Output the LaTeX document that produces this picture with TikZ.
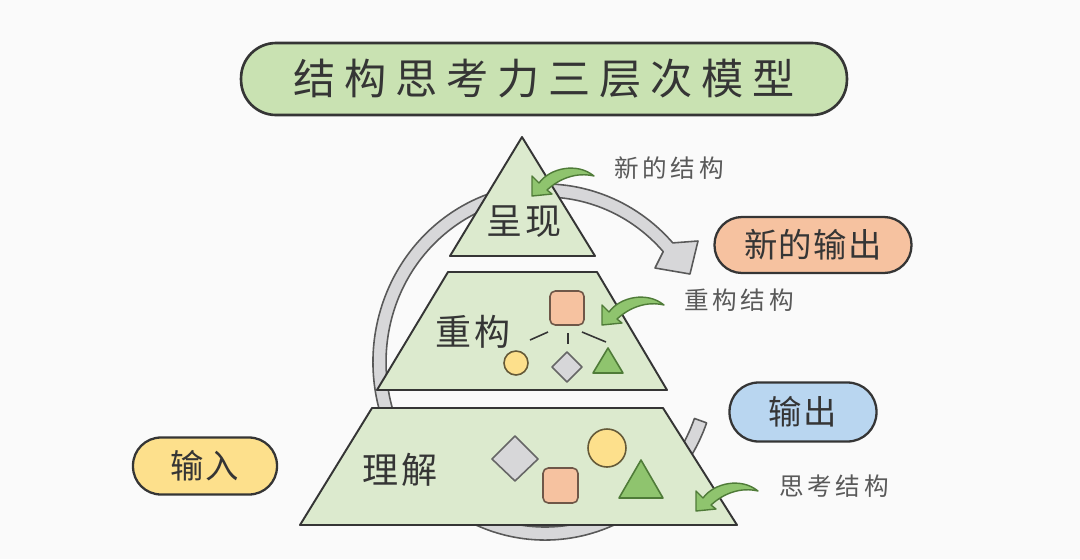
\documentclass[tikz,border=0pt]{standalone}
\usepackage{fontspec}
\usepackage{tikz}
\usepackage{xcolor}
\usetikzlibrary{shapes,arrows,positioning,calc}
\newfontfamily\cjk{Noto Sans CJK SC}

\definecolor{layergreen}{HTML}{DCEACE}
\definecolor{titlegreen}{HTML}{C9E2B2}
\definecolor{arrowgreen}{HTML}{8FC46E}
\definecolor{darkgreen}{HTML}{4F7B38}
\definecolor{peach}{HTML}{F6C2A0}
\definecolor{sunny}{HTML}{FDE08C}
\definecolor{skyblue}{HTML}{B9D6F0}
\definecolor{bandgray}{HTML}{D7D7D9}
\definecolor{inkgray}{HTML}{353535}

\begin{document}
\begin{tikzpicture}[
      x=0.02cm, y=-0.02cm,
      layer/.style={draw=inkgray, fill=layergreen, line width=1.1pt, line join=round},
      pill/.style={rectangle, draw=inkgray, line width=1.3pt, text=inkgray, font=\cjk\fontsize{19}{19}\selectfont\addfontfeatures{LetterSpace=4}},
      layerlabel/.style={text=inkgray, font=\cjk\fontsize{20.5}{20.5}\selectfont\addfontfeatures{LetterSpace=6}},
      note/.style={text=black!65, font=\cjk\fontsize{14}{14}\selectfont\addfontfeatures{LetterSpace=15}},
      item/.style={line width=0.9pt, line join=round},
      band/.style={draw=black!65, fill=bandgray, line width=0.9pt, line join=round},
      bendarrow/.pic={
        \filldraw[draw=darkgreen, fill=arrowgreen, line width=0.8pt, line join=round]
          (0,0) -- (0,-20) -- (7,-13) .. controls (18,-28) and (45,-34) .. (62,-20)
          .. controls (45,-24) and (28,-18) .. (15,-6) -- (20,-2) -- cycle;
      }
    ]

      % Canvas
      \fill[black!2] (0,0) rectangle (1080,559);
      \useasboundingbox (0,0) rectangle (1080,559);

      % Title
      \node[pill, fill=titlegreen, line width=1.5pt, minimum width=12.12cm, minimum height=1.44cm, rounded corners=0.7cm,
        font=\cjk\fontsize{24}{24}\selectfont\addfontfeatures{LetterSpace=21}] (title) at (544,79) {结构思考力三层次模型};

      % Cycle band behind the pyramid
      \filldraw[band] (545,362) ++(20:172 and 178) arc[start angle=20, end angle=318, x radius=172, y radius=178]
        -- (698,241) -- (690,274) -- (655,268) -- (663.2,251.6)
        arc[start angle=318, end angle=20, x radius=159, y radius=165] -- cycle;

      % Pyramid layers
      \draw[layer] (522,137) -- (595,256) -- (450,256) -- cycle;
      \draw[layer] (448,272) -- (597,272) -- (667,390) -- (377,390) -- cycle;
      \draw[layer] (372,408) -- (663,408) -- (737,525) -- (300,525) -- cycle;

      \node[layerlabel] (present) at (524,222) {呈现};
      \node[layerlabel] (rebuild) at (473,332) {重构};
      \node[layerlabel] (grasp) at (400,470) {理解};

      % Middle layer shapes
      \draw[item, draw=peach!45!black, fill=peach, rounded corners=3pt] (550,291) rectangle (584,325);
      \draw[item, draw=inkgray] (548,332) -- (530,340);
      \draw[item, draw=inkgray] (568,333) -- (568,344);
      \draw[item, draw=inkgray] (582,332) -- (606,342);
      \draw[item, draw=sunny!40!black, fill=sunny] (516,363) circle[radius=12];
      \draw[item, draw=black!60, fill=bandgray] (567,352) -- (582,367) -- (567,382) -- (552,367) -- cycle;
      \draw[item, draw=darkgreen, fill=arrowgreen] (608,348) -- (623,373) -- (593,373) -- cycle;

      % Bottom layer shapes
      \draw[item, draw=black!60, fill=bandgray] (515,436) -- (538,459) -- (515,481) -- (492,459) -- cycle;
      \draw[item, draw=peach!45!black, fill=peach, rounded corners=3pt] (543,468) rectangle (578,503);
      \draw[item, draw=sunny!40!black, fill=sunny] (607,448) circle[radius=19];
      \draw[item, draw=darkgreen, fill=arrowgreen] (641,460) -- (663,498) -- (619,498) -- cycle;

      % Green arrows and notes
      \pic at (532,196) {bendarrow};
      \pic at (602,325) {bendarrow};
      \pic at (696,511) {bendarrow};

      \node[note] (newstruct) at (669,168) {新的结构};
      \node[note] (restruct) at (739,300) {重构结构};
      \node[note] (thinkstruct) at (834,486) {思考结构};

      % Inputs and outputs
      \node[pill, fill=peach, minimum width=3.94cm, minimum height=1.12cm, rounded corners=0.55cm] (newout) at (813,245) {新的输出};
      \node[pill, fill=skyblue, minimum width=2.94cm, minimum height=1.18cm, rounded corners=0.58cm] (output) at (803,412) {输出};
      \node[pill, fill=sunny, minimum width=2.88cm, minimum height=1.14cm, rounded corners=0.56cm] (input) at (205,466) {输入};

    \end{tikzpicture}
\end{document}
